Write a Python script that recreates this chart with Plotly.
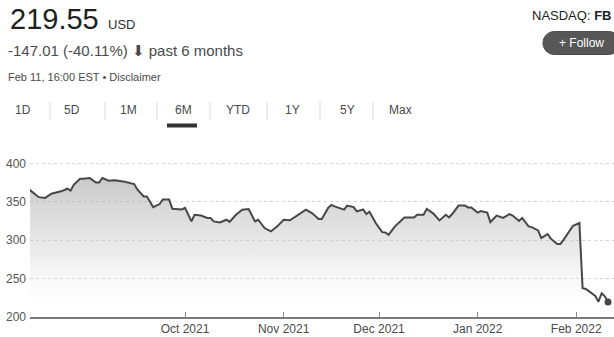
import plotly.graph_objects as go

# ---- data ----
dates = [
    "2021-08-13", "2021-08-16", "2021-08-18", "2021-08-20", "2021-08-23", "2021-08-25",
    "2021-08-26", "2021-08-27", "2021-08-29", "2021-08-30", "2021-09-01", "2021-09-03",
    "2021-09-04", "2021-09-05", "2021-09-07", "2021-09-09", "2021-09-12", "2021-09-15",
    "2021-09-16", "2021-09-18", "2021-09-19", "2021-09-21", "2021-09-23", "2021-09-24",
    "2021-09-26", "2021-09-27", "2021-09-30", "2021-10-01", "2021-10-03", "2021-10-04",
    "2021-10-06", "2021-10-08", "2021-10-09", "2021-10-10", "2021-10-12", "2021-10-14",
    "2021-10-15", "2021-10-17", "2021-10-19", "2021-10-21", "2021-10-23", "2021-10-24",
    "2021-10-26", "2021-10-28", "2021-10-30", "2021-11-01", "2021-11-03", "2021-11-05",
    "2021-11-08", "2021-11-10", "2021-11-12", "2021-11-13", "2021-11-15", "2021-11-16",
    "2021-11-17", "2021-11-20", "2021-11-21", "2021-11-23", "2021-11-24", "2021-11-26",
    "2021-11-27", "2021-11-28", "2021-11-30", "2021-12-02", "2021-12-03", "2021-12-04",
    "2021-12-06", "2021-12-09", "2021-12-12", "2021-12-13", "2021-12-15", "2021-12-16",
    "2021-12-18", "2021-12-20", "2021-12-22", "2021-12-23", "2021-12-24", "2021-12-26",
    "2021-12-28", "2021-12-29", "2021-12-30", "2022-01-01", "2022-01-02", "2022-01-04",
    "2022-01-05", "2022-01-07", "2022-01-09", "2022-01-11", "2022-01-12", "2022-01-14",
    "2022-01-15", "2022-01-17", "2022-01-18", "2022-01-20", "2022-01-21", "2022-01-23",
    "2022-01-24", "2022-01-26", "2022-01-27", "2022-01-28", "2022-01-30", "2022-01-31",
    "2022-02-02", "2022-02-03", "2022-02-04", "2022-02-07", "2022-02-08", "2022-02-09",
    "2022-02-10", "2022-02-11",
]
prices = [
    366, 356, 355, 360.5, 363.6, 367,
    364.5, 372, 380, 380, 381, 375,
    375, 381, 377.5, 378, 376, 373,
    366, 357, 357, 343, 347, 353,
    353, 341, 340, 342, 324.4, 333,
    332, 329, 329, 324.4, 323, 326.6,
    323.8, 333, 339.7, 340.6, 324.4, 326.6,
    315.8, 311.4, 318, 326.6, 326, 331.8,
    339.7, 335, 327.5, 327.5, 342, 346,
    344, 339.7, 345, 343, 337.5, 340,
    334, 337, 322, 310.5, 310, 307,
    318, 329.6, 329.6, 333, 333, 340.6,
    335, 325.7, 333, 329.6, 334, 345,
    345, 342.7, 342.7, 336, 338, 336,
    323.6, 332, 329, 334, 332, 325,
    329, 318, 317, 312.7, 302.7, 308,
    302, 295, 295, 300.5, 313.5, 318.8,
    322.3, 237.5, 236.5, 227.4, 220, 231,
    227, 219.55,
]
y_ticks = [200, 250, 300, 350, 400]
x_ticks = ["2021-10-01", "2021-11-01", "2021-12-01", "2022-01-01", "2022-02-01"]
x_tick_labels = ["Oct 2021", "Nov 2021", "Dec 2021", "Jan 2022", "Feb 2022"]
range_buttons = ["1D", "5D", "1M", "6M", "YTD", "1Y", "5Y", "Max"]

price_text = "219.55"
currency_text = "USD"
change_text = "-147.01 (-40.11%) <span style='font-family:DejaVu Sans'>⬇</span> past 6 months"
date_text = "Feb 11, 16:00 EST • Disclaimer"
exchange_text = "NASDAQ: <b>FB</b>"
follow_text = "+ Follow"

# ---- layout geometry (pixels) ----
W, H = 614, 337
ML, MR, MT, MB = 30, 0, 148, 20
PW = W - ML - MR
PH = H - MT - MB
FONT = "Liberation Sans, Arial, sans-serif"


def fx(px):
    return (px - ML) / PW


def fy(py):
    return (H - MB - py) / PH


fig = go.Figure()
fig.add_trace(go.Scatter(
    x=dates, y=prices, mode="lines",
    line=dict(color="#474747", width=2),
    fill="tozeroy",
    fillgradient=dict(type="vertical", start=200, stop=385,
                      colorscale=[[0, "rgba(255,255,255,0)"],
                                  [0.45, "rgba(200,200,200,0.35)"],
                                  [1, "rgba(165,165,165,0.62)"]]),
    hoverinfo="skip", showlegend=False,
))
fig.add_trace(go.Scatter(
    x=[dates[-1]], y=[prices[-1]], mode="markers",
    marker=dict(color="#474747", size=7),
    hoverinfo="skip", showlegend=False, cliponaxis=False,
))

annotations = []


def text(x, y, s, size, color="#222", anchor="left"):
    annotations.append(dict(
        x=fx(x), y=fy(y), xref="paper", yref="paper", text=s, showarrow=False,
        xanchor=anchor, yanchor="middle",
        font=dict(family=FONT, size=size, color=color),
    ))


text(8, 18.5, price_text, 29, "#202020")
text(106, 24.5, currency_text, 13, "#303030")
text(6, 51, change_text, 15, "#4a4a4a")
text(6, 77, date_text, 11, "#4a4a4a")
btn_x = [23, 72, 128, 183, 238, 292, 347, 400]
for bx, lab in zip(btn_x, range_buttons):
    text(bx, 110, lab, 12, "#4a4a4a", anchor="center")
text(530, 15, exchange_text, 13, "#222")
text(581, 43, follow_text, 12, "#ffffff", anchor="center")

shapes = []
for sx in [50, 105, 157, 210, 267, 320, 373]:
    shapes.append(dict(type="line", xref="paper", yref="paper",
                       x0=fx(sx), x1=fx(sx), y0=fy(102), y1=fy(120),
                       line=dict(color="#dadada", width=1)))
shapes.append(dict(type="rect", xref="paper", yref="paper",
                   x0=fx(167), x1=fx(197), y0=fy(127.5), y1=fy(123.5),
                   fillcolor="#333333", line=dict(width=0)))


def P(px, py):
    return f"{fx(px):.5f},{fy(py):.5f}"


# rounded pill for Follow button
left, right, top, bot = 543, 620, 31.5, 54.5
r = (bot - top) / 2
cy = (top + bot) / 2
k = 0.5523 * r
c1, c2 = left + r, right - r
pill = (f"M {P(c1, top)} L {P(c2, top)} "
        f"C {P(c2 + k, top)} {P(right, cy - k)} {P(right, cy)} "
        f"C {P(right, cy + k)} {P(c2 + k, bot)} {P(c2, bot)} "
        f"L {P(c1, bot)} "
        f"C {P(c1 - k, bot)} {P(left, cy + k)} {P(left, cy)} "
        f"C {P(left, cy - k)} {P(c1 - k, top)} {P(c1, top)} Z")
shapes.append(dict(type="path", xref="paper", yref="paper", path=pill,
                   fillcolor="#575757", line=dict(color="#4a4a4a", width=1),
                   layer="below"))

fig.update_layout(
    width=W, height=H, autosize=False,
    margin=dict(l=ML, r=MR, t=MT, b=MB, pad=0, autoexpand=False),
    paper_bgcolor="white", plot_bgcolor="white",
    font=dict(family=FONT, color="#555"),
    annotations=annotations, shapes=shapes,
    hovermode=False,
    xaxis=dict(
        type="date", range=["2021-08-13 06:00", "2022-02-12 21:00"],
        tickvals=x_ticks, ticktext=x_tick_labels,
        tickfont=dict(size=12, color="#4a4a4a", family=FONT),
        showgrid=False, zeroline=False, automargin=False,
        showline=True, linecolor="#7a7a7a", linewidth=2,
        ticks="inside", ticklen=5, tickcolor="#8a8a8a", tickwidth=1,
        fixedrange=True,
    ),
    yaxis=dict(
        range=[200, 420], tickvals=y_ticks, automargin=False,
        tickfont=dict(size=12, color="#555", family=FONT),
        showgrid=True, gridcolor="#d6d6d6", griddash="dot", gridwidth=1,
        zeroline=False, showline=False, ticks="", ticklabelstandoff=3,
        fixedrange=True,
    ),
)

fig.write_html(
    "out.html",
    config={"displayModeBar": False, "responsive": False},
    post_script="document.body.style.margin='0';",
)
